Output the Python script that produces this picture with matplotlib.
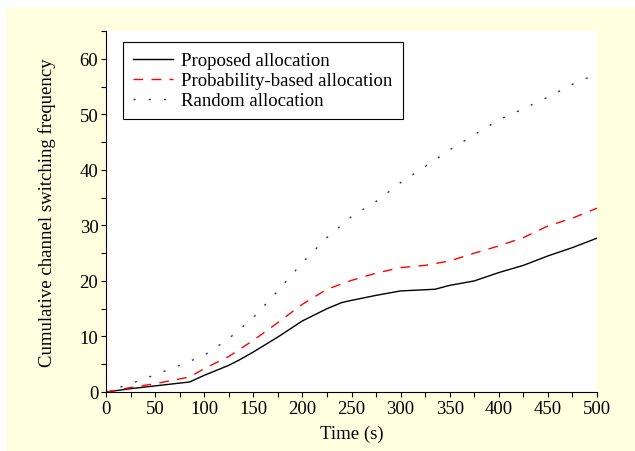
import matplotlib
matplotlib.use("Agg")
import matplotlib.pyplot as plt
from matplotlib.patches import Rectangle
from matplotlib.ticker import MultipleLocator

plt.rcParams['font.family'] = ['Liberation Serif', 'DejaVu Serif']
plt.rcParams['font.size'] = 13.5

# --- data ---
time_s = [0, 25, 50, 85, 100, 125, 135, 150, 175, 200, 225, 240, 250, 275,
          300, 335, 350, 375, 400, 425, 450, 475, 500]
proposed = [0, 0.6, 1.1, 1.8, 3.0, 4.8, 5.7, 7.2, 9.9, 12.8, 15.0, 16.1, 16.5,
            17.4, 18.2, 18.5, 19.2, 20.0, 21.5, 22.8, 24.5, 26.0, 27.7]

time_prob = [0, 25, 50, 85, 100, 125, 150, 175, 200, 225, 250, 275, 300, 325,
             350, 375, 400, 425, 450, 475, 500]
probability = [0, 0.8, 1.5, 2.7, 4.2, 6.4, 9.3, 12.5, 15.8, 18.5, 20.1, 21.4,
               22.4, 22.8, 23.6, 25.0, 26.3, 27.8, 29.9, 31.3, 33.1]

time_rand = [0, 25, 50, 75, 100, 125, 150, 175, 200, 225, 250, 275, 300, 325,
             350, 375, 400, 425, 450, 475, 500]
random_alloc = [0, 1.5, 3.1, 4.8, 6.6, 9.6, 13.4, 18.2, 23.3, 27.8, 31.6, 34.3,
                37.7, 40.6, 43.6, 46.3, 49.0, 51.0, 53.1, 55.4, 57.3]

labels = ["Proposed allocation", "Probability-based allocation", "Random allocation"]

fig = plt.figure(figsize=(6.35, 4.52), dpi=100, facecolor='white')
# light yellow panel behind everything
fig.patches.append(Rectangle((6 / 635, 0), 1 - 6 / 635, 1 - 8 / 452,
                             transform=fig.transFigure, facecolor='#FFFFE0',
                             edgecolor='none', zorder=-10))

ax = fig.add_axes([106 / 635, 59 / 452, 491 / 635, 361 / 452])
ax.set_facecolor('white')

ax.plot(time_s, proposed, color='black', lw=1.0, label=labels[0])
ax.plot(time_prob, probability, color='red', lw=1.0, dashes=(7, 6), label=labels[1])
ax.plot(time_rand, random_alloc, color='#2A2AA0', lw=1.0, dashes=(1.5, 9.5),
        label=labels[2])

ax.set_xlim(0, 500)
ax.set_ylim(0, 65)
ax.xaxis.set_major_locator(MultipleLocator(50))
ax.xaxis.set_minor_locator(MultipleLocator(25))
ax.yaxis.set_major_locator(MultipleLocator(10))
ax.yaxis.set_minor_locator(MultipleLocator(5))
ax.tick_params(which='both', direction='out', length=3.5, width=0.8, pad=2)

for side in ('top', 'right'):
    ax.spines[side].set_visible(False)
for side in ('left', 'bottom'):
    ax.spines[side].set_linewidth(0.8)

ax.set_xlabel("Time (s)", labelpad=6)
ax.set_ylabel("Cumulative channel switching frequency", labelpad=17)

leg = ax.legend(loc='upper left', bbox_to_anchor=(0.035, 0.97), fancybox=False,
                edgecolor='black', framealpha=1, handlelength=2.1,
                borderpad=0.55, labelspacing=0.15, handletextpad=0.45,
                borderaxespad=0)
leg.get_frame().set_linewidth(0.8)

fig.savefig("out.png", dpi=100, facecolor=fig.get_facecolor())
